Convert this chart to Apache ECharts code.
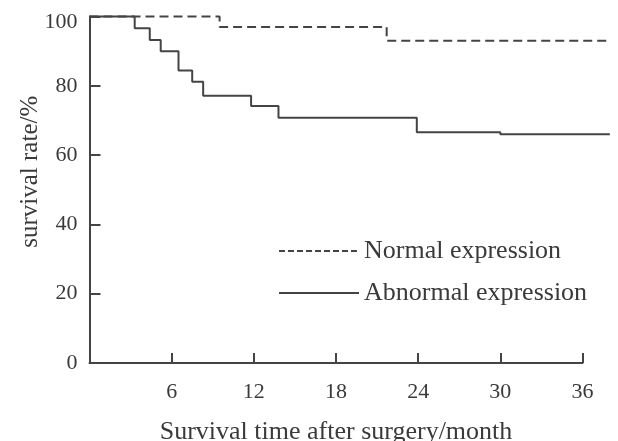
<!DOCTYPE html>
<html>
<head>
<meta charset="utf-8">
<script src="https://cdn.jsdelivr.net/npm/echarts@6/dist/echarts.min.js"></script>
<style>html,body{margin:0;padding:0;background:#fff;}#c{width:618px;height:441px;}</style>
</head>
<body>
<div id="c"></div>
<script>
// Kaplan-Meier style survival data (months, survival %)
var normalTime = [0, 9.5, 21.7, 38];
var normalRate = [100, 97, 93, 93];
var abnormalTime = [0, 3.3, 4.4, 5.2, 6.5, 7.5, 8.3, 11.8, 13.8, 23.9, 30, 38];
var abnormalRate = [100, 96.6, 93.2, 90.0, 84.4, 81.2, 77.1, 74.2, 70.8, 66.6, 66.0, 66.0];
var xTicks = [6, 12, 18, 24, 30, 36];
var yTicks = [0, 20, 40, 60, 80, 100];
var seriesNames = ['Normal expression', 'Abnormal expression'];
var xAxisMax = 36;   // labelled axis range
var dataXMax = 38;   // curves run slightly past the last tick

function pairs(t, v) { return t.map(function (x, i) { return [x, v[i]]; }); }

var FONT = 'Liberation Serif';
var TXT = '#3a3a3a';
var LINE = '#444';

var GL = 89.5, GR = 35.5, GT = 16.5, GB = 78;
var plotW = 618 - GL - GR;
var pxPerMonth = plotW / xAxisMax;
var GR2 = 618 - GL - pxPerMonth * dataXMax;

var chart = echarts.init(document.getElementById('c'), null, { renderer: 'canvas' });
chart.setOption({
  animation: false,
  backgroundColor: '#fff',
  grid: [
    { left: GL, right: GR, top: GT, bottom: GB, containLabel: false, outerBoundsMode: 'none' },
    { left: GL, right: GR2, top: GT, bottom: GB, containLabel: false, outerBoundsMode: 'none' }
  ],
  legend: {
    orient: 'vertical',
    left: 273,
    top: 233,
    itemWidth: 80,
    itemHeight: 14,
    itemGap: 16,
    itemStyle: { opacity: 0 },
    lineStyle: { width: 2 },
    textStyle: { fontFamily: FONT, fontSize: 26, color: TXT },
    data: [
      { name: seriesNames[0], lineStyle: { type: [6, 3] } },
      { name: seriesNames[1] }
    ]
  },
  xAxis: [
    {
      gridIndex: 0,
      type: 'value',
      min: 0, max: xAxisMax, interval: 6,
      name: 'Survival time after surgery/month',
      nameLocation: 'middle',
      nameGap: 56,
      nameMoveOverlap: false,
      nameTextStyle: { fontFamily: FONT, fontSize: 26, color: TXT },
      axisLine: { show: true, lineStyle: { color: LINE, width: 2 } },
      axisTick: { show: true, inside: true, length: 10, lineStyle: { color: LINE, width: 2 } },
      axisLabel: {
        fontFamily: FONT, fontSize: 22, color: TXT, margin: 18,
        formatter: function (v) { return xTicks.indexOf(v) >= 0 ? String(v) : ''; }
      },
      splitLine: { show: false }
    },
    {
      gridIndex: 1,
      type: 'value',
      min: 0, max: dataXMax,
      show: false
    }
  ],
  yAxis: [
    {
      gridIndex: 0,
      type: 'value',
      min: 0, max: 100, interval: 20,
      name: 'survival rate/%',
      nameLocation: 'middle',
      nameGap: 47,
      nameMoveOverlap: false,
      nameRotate: 90,
      nameTextStyle: { fontFamily: FONT, fontSize: 25, color: TXT, padding: [0, 0, 0, 36] },
      axisLine: { show: true, lineStyle: { color: LINE, width: 2 } },
      axisTick: { show: true, inside: true, length: 11, lineStyle: { color: LINE, width: 2 } },
      axisLabel: {
        fontFamily: FONT, fontSize: 22, color: TXT, margin: 12,
        formatter: function (v) {
          if (yTicks.indexOf(v) < 0) return '';
          return v === 100 ? '{t|' + v + '}' : String(v);
        },
        rich: { t: { fontFamily: FONT, fontSize: 22, color: TXT, padding: [12, 0, 0, 0] } }
      },
      splitLine: { show: false }
    },
    {
      gridIndex: 1,
      type: 'value',
      min: 0, max: 100,
      show: false
    }
  ],
  series: [
    {
      name: seriesNames[0],
      type: 'line',
      xAxisIndex: 1, yAxisIndex: 1,
      step: 'end',
      clip: false,
      symbol: 'none',
      data: pairs(normalTime, normalRate),
      lineStyle: { color: LINE, width: 2, type: [9, 5] },
      itemStyle: { color: LINE }
    },
    {
      name: seriesNames[1],
      type: 'line',
      xAxisIndex: 1, yAxisIndex: 1,
      step: 'end',
      clip: false,
      symbol: 'none',
      data: pairs(abnormalTime, abnormalRate),
      lineStyle: { color: LINE, width: 2, type: 'solid' },
      itemStyle: { color: LINE }
    }
  ]
});
</script>
</body>
</html>
